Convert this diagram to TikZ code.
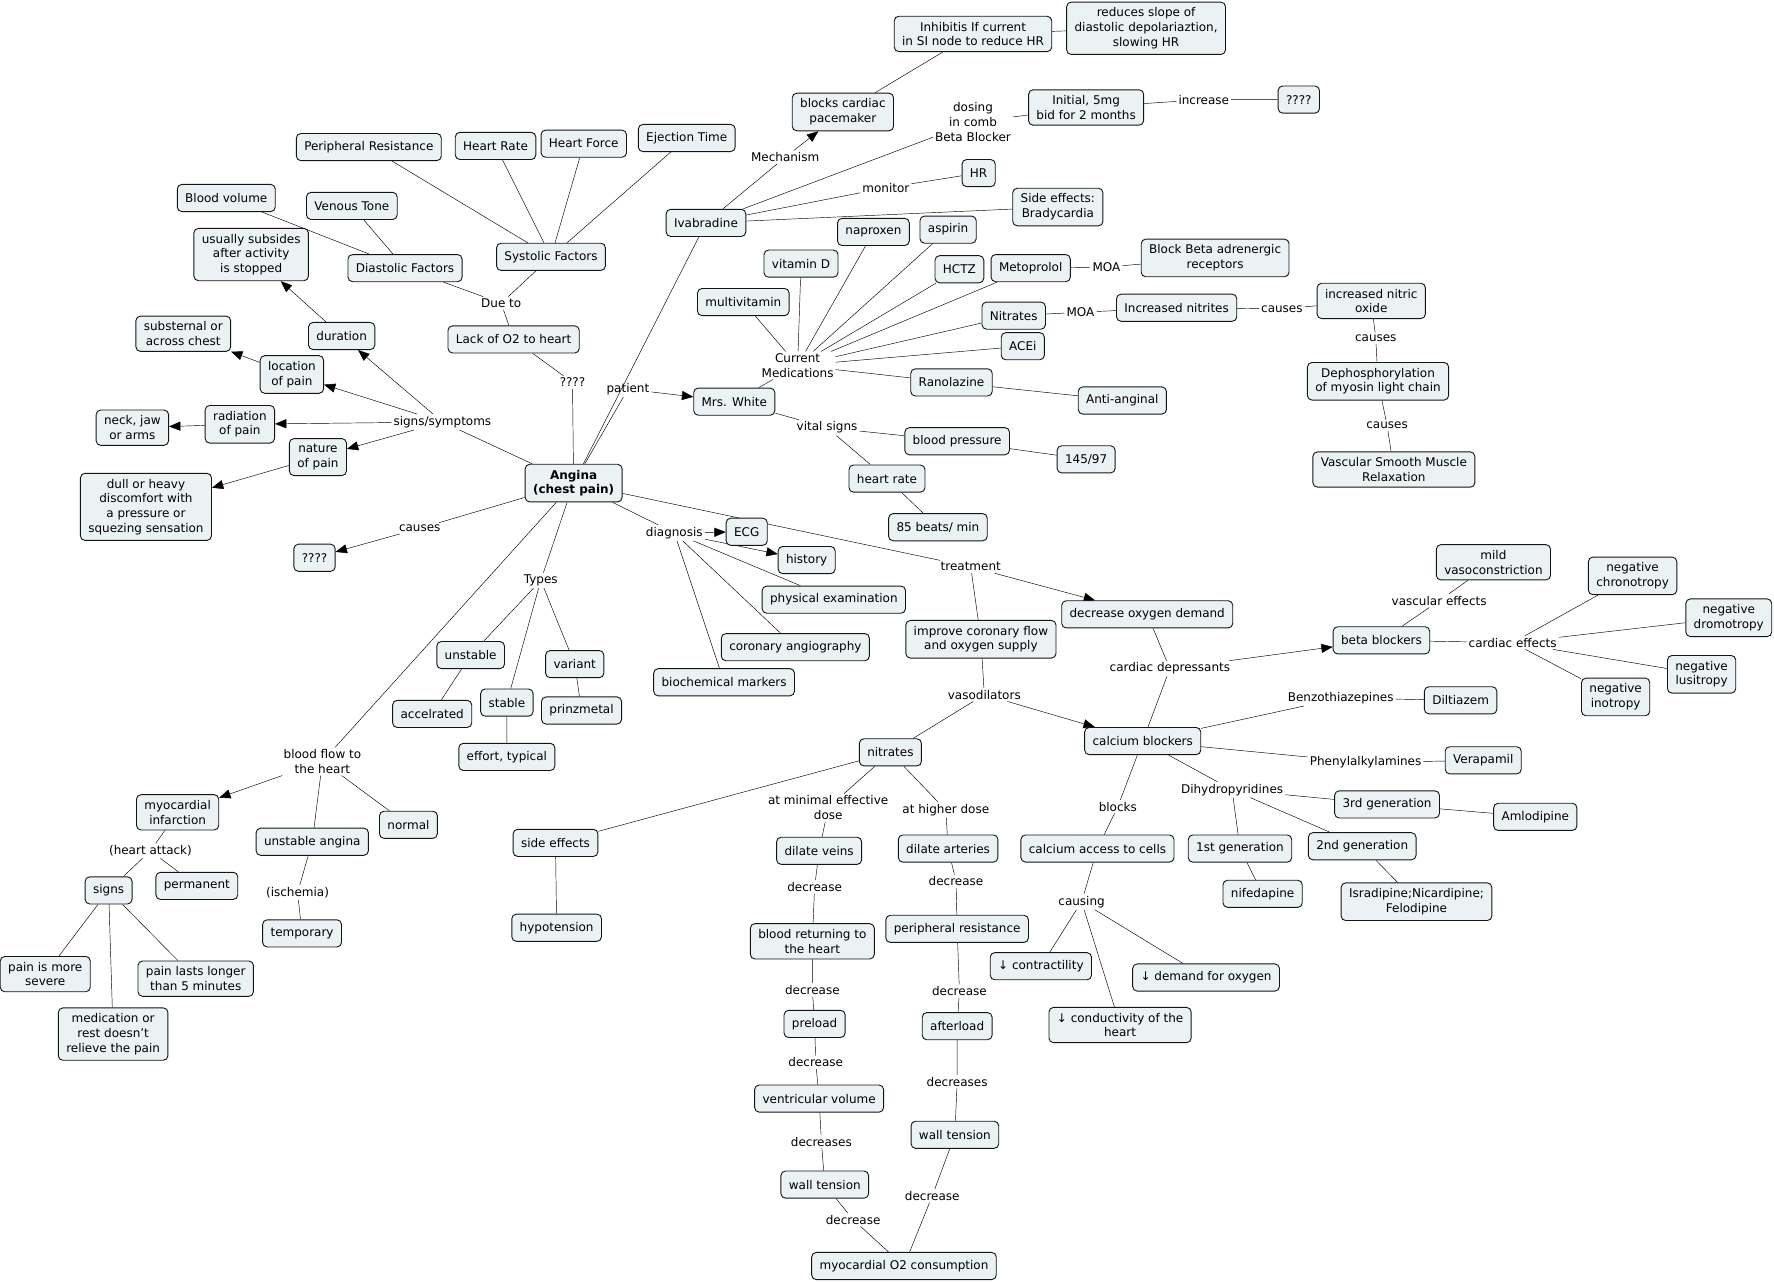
\documentclass[tikz,border=0pt]{standalone}
\usepackage{fontspec}
\setmainfont{DejaVu Sans}
\usetikzlibrary{arrows.meta}
\pgfdeclarelayer{background}
\pgfsetlayers{background,main}
\begin{document}
\begin{tikzpicture}[
		x=1pt,y=-1pt,
		line width=0.8pt,
		every node/.style={font=\fontsize{10.6}{13}\selectfont, align=center},
		khung/.style={draw=MauDuong, fill=MauKhung, rounded corners=4pt,
			inner xsep=7pt, inner ysep=5pt, minimum height=24pt},
		nhan/.style={inner sep=1.5pt},
		muiten/.style={-{Triangle[length=10pt,width=8pt]}}
	]
		\definecolor{MauKhung}{RGB}{235,242,244}
		\definecolor{MauDuong}{RGB}{20,20,20}
		\useasboundingbox (0,0) rectangle (1568,1134);
		% top: ivabradine
		\node[khung] (inhib) at (860,30) {Inhibitis If current\\in SI node to reduce HR};
		\node[khung] (slope) at (1013,25) {reduces slope of\\diastolic depolariaztion,\\slowing HR};
		\node[khung] (pace) at (745,99) {blocks cardiac\\pacemaker};
		\node[khung] (initial) at (960,95) {Initial, 5mg\\bid for 2 months};
		\node[khung] (q1) at (1148,88) {????};
		\node[nhan] (dosing) at (860,108) {dosing\\in comb\\Beta Blocker};
		\node[nhan] (increase) at (1064,88) {increase};
		\node[nhan] (mech) at (694,139) {Mechanism};
		\node[khung] (hr) at (865,153) {HR};
		\node[nhan] (monitor) at (783,166) {monitor};
		\node[khung] (brady) at (935,183) {Side effects:\\Bradycardia};
		\node[khung] (ivab) at (624,197) {Ivabradine};
		% factors
		\node[khung] (eject) at (607,122) {Ejection Time};
		\node[khung] (hforce) at (516,127) {Heart Force};
		\node[khung] (hrate) at (438,129) {Heart Rate};
		\node[khung] (pres) at (326,130) {Peripheral Resistance};
		\node[khung] (bvol) at (200,175) {Blood volume};
		\node[khung] (vtone) at (311,182) {Venous Tone};
		\node[khung] (systolic) at (487,227) {Systolic Factors};
		\node[khung] (diastolic) at (358,237) {Diastolic Factors};
		\node[nhan] (dueto) at (443,268) {Due to};
		\node[khung] (lacko2) at (454,300) {Lack of O2 to heart};
		\node[nhan] (q2) at (506,338) {????};
		% signs / symptoms
		\node[khung] (subside) at (222,225) {usually subsides\\after activity\\is stopped};
		\node[khung] (duration) at (302,297) {duration};
		\node[khung] (subst) at (162,295) {substernal or\\across chest};
		\node[khung] (location) at (258,331) {location\\of pain};
		\node[khung] (neck) at (117,378) {neck, jaw\\or arms};
		\node[khung] (radiation) at (212,375) {radiation\\of pain};
		\node[nhan] (signsym) at (391,373) {signs/symptoms};
		\node[khung] (nature) at (281,404) {nature\\of pain};
		\node[khung] (dull) at (129,448) {dull or heavy\\discomfort with\\a pressure or\\squezing sensation};
		\node[nhan] (causes4) at (371,467) {causes};
		\node[khung] (q3) at (278,493) {????};
		\node[khung, font=\fontsize{10.6}{13}\selectfont\bfseries] (angina) at (507,427) {Angina\\(chest pain)};
		% Mrs. White
		\node[khung] (naprox) at (772,205) {naproxen};
		\node[khung] (aspirin) at (838,203) {aspirin};
		\node[khung] (vitd) at (708,233) {vitamin D};
		\node[khung] (hctz) at (848,238) {HCTZ};
		\node[khung] (metop) at (911,237) {Metoprolol};
		\node[nhan] (moa1) at (978,236) {MOA};
		\node[khung] (bbar) at (1074,228) {Block Beta adrenergic\\receptors};
		\node[khung] (multi) at (657,267) {multivitamin};
		\node[khung] (nitrates1) at (896,279) {Nitrates};
		\node[nhan] (moa2) at (955,276) {MOA};
		\node[khung] (incnit) at (1040,272) {Increased nitrites};
		\node[nhan] (causes1) at (1133,273) {causes};
		\node[khung] (nitric) at (1212,266) {increased nitric\\oxide};
		\node[nhan] (causes2) at (1216,299) {causes};
		\node[khung] (dephos) at (1218,337) {Dephosphorylation\\of myosin light chain};
		\node[nhan] (causes3) at (1226,376) {causes};
		\node[khung] (vsmr) at (1232,415) {Vascular Smooth Muscle\\Relaxation};
		\node[khung] (acei) at (904,306) {ACEi};
		\node[nhan] (curmed) at (705,323) {Current\\Medications};
		\node[nhan] (patient) at (555,344) {patient};
		\node[khung] (ranol) at (841,338) {Ranolazine};
		\node[khung] (antiang) at (992,354) {Anti-anginal};
		\node[khung] (mrsw) at (649,355) {Mrs. White};
		\node[nhan] (vital) at (731,378) {vital signs};
		\node[khung] (bp) at (846,390) {blood pressure};
		\node[khung] (bpval) at (960,406) {145/97};
		\node[khung] (hrate2) at (784,423) {heart rate};
		\node[khung] (beats) at (829,466) {85 beats/ min};
		% diagnosis and treatment
		\node[nhan] (diag) at (596,471) {diagnosis};
		\node[khung] (ecg) at (660,470) {ECG};
		\node[khung] (history) at (713,495) {history};
		\node[khung] (physex) at (737,530) {physical examination};
		\node[khung] (angio) at (703,572) {coronary angiography};
		\node[khung] (biochem) at (640,603) {biochemical markers};
		\node[nhan] (treat) at (858,501) {treatment};
		\node[khung] (decox) at (1014,543) {decrease oxygen demand};
		\node[khung] (improve) at (867,565) {improve coronary flow\\and oxygen supply};
		\node[nhan] (carddep) at (1034,591) {cardiac depressants};
		\node[nhan] (vasodil) at (870,614) {vasodilators};
		% beta blockers
		\node[khung] (mildvc) at (1320,497) {mild\\vasoconstriction};
		\node[nhan] (vascef) at (1272,531) {vascular effects};
		\node[khung] (bblock) at (1221,566) {beta blockers};
		\node[nhan] (cardef) at (1337,568) {cardiac effects};
		\node[khung] (chrono) at (1443,509) {negative\\chronotropy};
		\node[khung] (dromo) at (1528,546) {negative\\dromotropy};
		\node[khung] (lusi) at (1504,596) {negative\\lusitropy};
		\node[khung] (ino) at (1428,616) {negative\\inotropy};
		% calcium blockers
		\node[khung] (cablock) at (1010,655) {calcium blockers};
		\node[nhan] (benzo) at (1185,617) {Benzothiazepines};
		\node[khung] (diltia) at (1291,619) {Diltiazem};
		\node[nhan] (phenyl) at (1207,674) {Phenylalkylamines};
		\node[khung] (verap) at (1311,672) {Verapamil};
		\node[nhan] (dihydro) at (1089,698) {Dihydropyridines};
		\node[khung] (gen3) at (1226,711) {3rd generation};
		\node[khung] (amlo) at (1357,722) {Amlodipine};
		\node[khung] (gen1) at (1096,750) {1st generation};
		\node[khung] (gen2) at (1204,748) {2nd generation};
		\node[khung] (nifed) at (1116,790) {nifedapine};
		\node[khung] (isra) at (1252,797) {Isradipine;Nicardipine;\\Felodipine};
		\node[nhan] (blocks) at (988,713) {blocks};
		\node[khung] (caaccess) at (970,750) {calcium access to cells};
		\node[nhan] (causing) at (956,797) {causing};
		\node[khung] (contr) at (920,854) {↓ contractility};
		\node[khung] (demand) at (1066,864) {↓ demand for oxygen};
		\node[khung] (conduct) at (990,906) {↓ conductivity of the\\heart};
		% nitrates
		\node[khung] (nitr) at (787,665) {nitrates};
		\node[khung] (side) at (491,745) {side effects};
		\node[khung] (hypot) at (492,820) {hypotension};
		\node[nhan] (minimal) at (732,714) {at minimal effective\\dose};
		\node[nhan] (higher) at (836,716) {at higher dose};
		\node[khung] (veins) at (724,752) {dilate veins};
		\node[khung] (arteries) at (838,750) {dilate arteries};
		\node[nhan] (dec1) at (720,784) {decrease};
		\node[nhan] (dec2) at (845,779) {decrease};
		\node[khung] (pres2) at (846,821) {peripheral resistance};
		\node[khung] (bret) at (718,832) {blood returning to\\the heart};
		\node[nhan] (dec3) at (718,875) {decrease};
		\node[nhan] (dec4) at (848,876) {decrease};
		\node[khung] (preload) at (720,905) {preload};
		\node[khung] (afterload) at (846,907) {afterload};
		\node[nhan] (dec5) at (721,939) {decrease};
		\node[nhan] (decs1) at (846,956) {decreases};
		\node[khung] (ventvol) at (724,971) {ventricular volume};
		\node[khung] (wallR) at (844,1003) {wall tension};
		\node[nhan] (decs2) at (726,1009) {decreases};
		\node[khung] (wallL) at (729,1047) {wall tension};
		\node[nhan] (dec6) at (824,1057) {decrease};
		\node[nhan] (dec7) at (754,1078) {decrease};
		\node[khung] (mo2) at (799,1119) {myocardial O2 consumption};
		% types and blood flow
		\node[nhan] (types) at (478,513) {Types};
		\node[khung] (unstable) at (416,579) {unstable};
		\node[khung] (variant) at (508,587) {variant};
		\node[khung] (accel) at (382,631) {accelrated};
		\node[khung] (stable) at (448,621) {stable};
		\node[khung] (prinz) at (514,628) {prinzmetal};
		\node[khung] (effort) at (448,669) {effort, typical};
		\node[nhan] (bflow) at (285,673) {blood flow to\\the heart};
		\node[khung] (mi) at (157,718) {myocardial\\infarction};
		\node[khung] (normal) at (361,729) {normal};
		\node[khung] (unang) at (276,744) {unstable angina};
		\node[nhan] (hattack) at (133,752) {(heart attack)};
		\node[khung] (signs) at (96,787) {signs};
		\node[khung] (perm) at (174,783) {permanent};
		\node[nhan] (ischem) at (263,789) {(ischemia)};
		\node[khung] (temp) at (267,825) {temporary};
		\node[khung] (severe) at (40,861) {pain is more\\severe};
		\node[khung] (longer) at (173,865) {pain lasts longer\\than 5 minutes};
		\node[khung] (medrest) at (100,914) {medication or\\rest doesn't\\relieve the pain};
		\begin{pgfonlayer}{background}
			\draw (inhib) -- (slope) (pace) -- (inhib);
			\draw (ivab) -- (mech);
			\draw[muiten] (mech) -- (pace);
			\draw (ivab) -- (dosing) -- (initial) -- (increase) -- (q1);
			\draw (ivab) -- (monitor) -- (hr) (ivab) -- (brady);
			\draw (angina) -- (ivab);
			\foreach \n in {pres,hrate,hforce,eject}
				\draw (\n) -- (systolic);
			\draw (bvol) -- (diastolic) (vtone) -- (diastolic);
			\draw (systolic) -- (dueto) (diastolic) -- (dueto) (dueto) -- (lacko2);
			\draw (lacko2) -- (q2) -- (angina);
			\draw (angina) -- (signsym);
			\foreach \n in {duration,location,radiation,nature}
				\draw[muiten] (signsym) -- (\n);
			\draw[muiten] (duration) -- (subside);
			\draw[muiten] (location) -- (subst);
			\draw[muiten] (radiation) -- (neck);
			\draw[muiten] (nature) -- (dull);
			\draw (angina) -- (causes4);
			\draw[muiten] (causes4) -- (q3);
			\draw (angina) -- (patient);
			\draw[muiten] (patient) -- (mrsw);
			\draw (mrsw) -- (curmed);
			\foreach \n in {multi,vitd,naprox,aspirin,hctz,metop,nitrates1,acei,ranol}
				\draw (curmed) -- (\n);
			\draw (metop) -- (moa1) -- (bbar);
			\draw (nitrates1) -- (moa2) -- (incnit) -- (causes1) -- (nitric)
				-- (causes2) -- (dephos) -- (causes3) -- (vsmr);
			\draw (ranol) -- (antiang);
			\draw (mrsw) -- (vital) (vital) -- (bp) (vital) -- (hrate2);
			\draw (bp) -- (bpval) (hrate2) -- (beats);
			\draw (angina) -- (diag);
			\draw[muiten] (diag) -- (ecg);
			\draw[muiten] (diag) -- (history);
			\draw (diag) -- (physex) (diag) -- (angio) (diag) -- (biochem);
			\draw (angina) -- (treat) (treat) -- (improve);
			\draw[muiten] (treat) -- (decox);
			\draw (improve) -- (vasodil) (vasodil) -- (nitr);
			\draw[muiten] (vasodil) -- (cablock);
			\draw (decox) -- (carddep) (carddep) -- (cablock);
			\draw[muiten] (carddep) -- (bblock);
			\draw (bblock) -- (vascef) -- (mildvc);
			\draw (bblock) -- (cardef);
			\foreach \n in {chrono,dromo,lusi,ino}
				\draw (cardef) -- (\n);
			\draw (cablock) -- (benzo) -- (diltia);
			\draw (cablock) -- (phenyl) -- (verap);
			\draw (cablock) -- (dihydro);
			\foreach \n in {gen3,gen1,gen2}
				\draw (dihydro) -- (\n);
			\draw (gen3) -- (amlo) (gen1) -- (nifed) (gen2) -- (isra);
			\draw (cablock) -- (blocks) -- (caaccess) -- (causing);
			\foreach \n in {contr,conduct,demand}
				\draw (causing) -- (\n);
			\draw (nitr) -- (side) -- (hypot);
			\draw (nitr) -- (minimal) -- (veins) -- (dec1) -- (bret) -- (dec3)
				-- (preload) -- (dec5) -- (ventvol) -- (decs2) -- (wallL) -- (dec7) -- (mo2);
			\draw (nitr) -- (higher) -- (arteries) -- (dec2) -- (pres2) -- (dec4)
				-- (afterload) -- (decs1) -- (wallR) -- (dec6) -- (mo2);
			\draw (angina) -- (types);
			\foreach \n in {unstable,stable,variant}
				\draw (types) -- (\n);
			\draw (unstable) -- (accel) (stable) -- (effort) (variant) -- (prinz);
			\draw (angina) -- (bflow);
			\draw[muiten] (bflow) -- (mi);
			\draw (bflow) -- (unang) (bflow) -- (normal);
			\draw (mi) -- (hattack) (hattack) -- (signs) (hattack) -- (perm);
			\foreach \n in {severe,medrest,longer}
				\draw (signs) -- (\n);
			\draw (unang) -- (ischem) -- (temp);
		\end{pgfonlayer}
	\end{tikzpicture}
\end{document}
